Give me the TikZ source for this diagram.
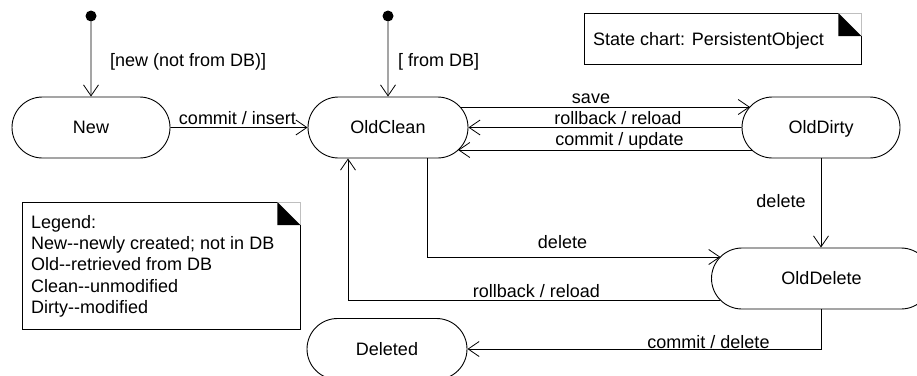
\documentclass[tikz,border=0pt]{standalone}
\usepackage{fontspec}
\setmainfont{Liberation Sans}
\usetikzlibrary{arrows.meta,shapes.misc}
\begin{document}
\begin{tikzpicture}[x=1pt,y=-1pt,
  every node/.style={font=\fontsize{18}{21.3}\selectfont},
  state/.style={draw, rounded rectangle, minimum height=61pt, minimum width=158pt, inner sep=0pt, text height=12.9pt, text depth=0pt, line width=0.9pt},
  lbl/.style={anchor=base, inner sep=0pt},
  tr/.style={draw, line width=0.8pt, -{Straight Barb[length=11pt,width=15pt]}},
  initdot/.style={circle, fill, inner sep=0pt, minimum size=11pt},
  notebox/.style={inner sep=0pt, anchor=north west},
  notetext/.style={inner sep=0pt, align=left},
  frame/.style={line width=0.9pt},
  fold/.style={black!25, line width=0.9pt}
]
\useasboundingbox (0,0) rectangle (917,375);

% states
\node[initdot] (i1) at (91,16) {};
\node[initdot] (i2) at (388,16) {};
\node[state] (New) at (91,127.5) {New};
\node[state, minimum width=160pt] (OldClean) at (388,127.5) {OldClean};
\node[state] (OldDirty) at (821,127.5) {OldDirty};
\node[state, minimum width=220pt] (OldDelete) at (821.5,278.5) {OldDelete};
\node[state, minimum width=160pt] (Deleted) at (387,349) {Deleted};

% transitions
\draw[tr] (i1) -- (New);
\draw[tr] (i2) -- (OldClean);
\draw[tr] (New) -- (OldClean);
\draw[tr] ([shift={(72.1,-20.5)}]OldClean.center) -- ([shift={(-71.1,-20.5)}]OldDirty.center);
\draw[tr] (OldDirty) -- (OldClean);
\draw[tr] ([shift={(-69.1,22.5)}]OldDirty.center) -- ([shift={(70.1,22.5)}]OldClean.center);
\draw[tr] (OldDirty.south) -- (OldDirty.south |- OldDelete.north);
\draw[tr] ([xshift=39pt]OldClean.south) |- ([shift={(-101.1,-21.5)}]OldDelete.center);
\draw[tr] ([shift={(-101.1,21.5)}]OldDelete.center) -| ([xshift=-40pt]OldClean.south);
\draw[tr] (OldDelete.south) |- (Deleted.east);

% labels
\node[lbl, anchor=base west] (l1) at (110,66) {[new (not from DB)]};
\node[lbl, anchor=base west] (l2) at (398,66) {[ from DB]};
\node[lbl] (l3) at (237.5,124) {commit / insert};
\node[lbl] (l4) at (591,103) {save};
\node[lbl] (l5) at (618,124) {rollback / reload};
\node[lbl] (l6) at (619.5,145) {commit / update};
\node[lbl] (l7) at (781,207) {delete};
\node[lbl] (l8) at (562.5,248) {delete};
\node[lbl] (l9) at (536.5,297) {rollback / reload};
\node[lbl] (l10) at (708.5,348) {commit / delete};

% legend note
\node[notebox, minimum width=278pt, minimum height=127pt] (legend) at (22,202) {};
\draw[frame] ([xshift=-23pt]legend.north east) -- (legend.north west) -- (legend.south west) -- (legend.south east) -- ([yshift=-23pt]legend.north east);
\draw[fold] ([xshift=-23pt]legend.north east) -- (legend.north east) -- ([yshift=-23pt]legend.north east);
\fill ([xshift=-23pt]legend.north east) -- ([shift={(-23pt,-23pt)}]legend.north east) -- ([yshift=-23pt]legend.north east) -- cycle;
\node[notetext, anchor=north west] (legendtext) at (31,215) {Legend:\\New-{}-newly created; not in DB\\Old-{}-retrieved from DB\\Clean-{}-unmodified\\Dirty-{}-modified};

% title note
\node[notebox, minimum width=277pt, minimum height=51pt] (title) at (584,13) {};
\draw[frame] ([xshift=-23pt]title.north east) -- (title.north west) -- (title.south west) -- (title.south east) -- ([yshift=-23pt]title.north east);
\draw[fold] ([xshift=-23pt]title.north east) -- (title.north east) -- ([yshift=-23pt]title.north east);
\fill ([xshift=-23pt]title.north east) -- ([shift={(-23pt,-23pt)}]title.north east) -- ([yshift=-23pt]title.north east) -- cycle;
\node[inner sep=0pt, anchor=base west] (titletext) at (593,45) {State chart: PersistentObject};
\end{tikzpicture}
\end{document}
